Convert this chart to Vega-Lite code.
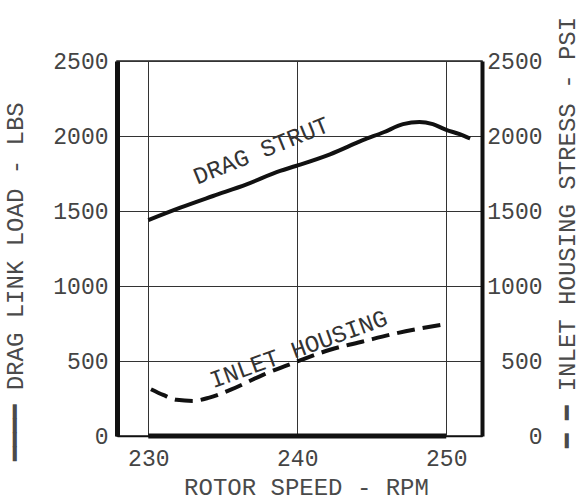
{
  "$schema": "https://vega.github.io/schema/vega-lite/v6.json",
  "width": 365,
  "height": 375,
  "autosize": {"type": "none"},
  "padding": {"left": 117, "top": 61, "right": 99, "bottom": 67},
  "background": "white",
  "config": {
    "font": "Liberation Mono",
    "view": {"stroke": "#222", "strokeWidth": 1.5},
    "axis": {"labelFont": "Liberation Mono", "titleFont": "Liberation Mono", "labelColor": "#444", "titleColor": "#4a4a4a", "titleFontWeight": "normal", "labelFontSize": 23, "titleFontSize": 24, "ticks": false, "gridColor": "#333", "gridWidth": 1, "gridOpacity": 1, "domainColor": "#111", "format": "d"}
  },
  "datasets": {
    "strut": [
      {"x": 230.0, "v": 1439}, {"x": 232.15, "v": 1522}, {"x": 234.35, "v": 1600}, {"x": 236.6, "v": 1678},
      {"x": 238.85, "v": 1767}, {"x": 239.9, "v": 1800}, {"x": 242.2, "v": 1878}, {"x": 244.4, "v": 1972},
      {"x": 245.8, "v": 2025}, {"x": 247.1, "v": 2079}, {"x": 248.2, "v": 2094}, {"x": 249.1, "v": 2079},
      {"x": 250.0, "v": 2041}, {"x": 250.9, "v": 2012}, {"x": 251.6, "v": 1983}
    ],
    "inlet": [
      {"x": 230.18, "v": 312}, {"x": 231.0, "v": 274}, {"x": 231.9, "v": 241}, {"x": 233.0, "v": 234},
      {"x": 234.1, "v": 256}, {"x": 235.5, "v": 307}, {"x": 237.7, "v": 408}, {"x": 240.0, "v": 497},
      {"x": 242.2, "v": 575}, {"x": 244.4, "v": 630}, {"x": 246.7, "v": 686}, {"x": 250.0, "v": 747}
    ],
    "labels": [
      {"x": 237.6, "v": 1898, "label": "DRAG STRUT"},
      {"x": 240.1, "v": 575, "label": "INLET HOUSING"}
    ],
    "base": [{"x": 230, "x2": 250, "v": 0}]
  },
  "layer": [
    {
      "layer": [
        {
          "data": {"name": "strut"},
          "mark": {"type": "line", "color": "#111", "strokeWidth": 4, "interpolate": "monotone"},
          "encoding": {
            "x": {"field": "x", "type": "quantitative", "scale": {"domain": [227.9, 252.4], "nice": false, "zero": false},
              "axis": {"values": [230, 240, 250], "title": "ROTOR SPEED - RPM", "domainWidth": 1.5, "labelPadding": 11, "titleX": 189, "titleY": 51, "titleBaseline": "middle", "titleAlign": "center"}},
            "y": {"field": "v", "type": "quantitative", "scale": {"domain": [0, 2500], "nice": false},
              "axis": {"orient": "left", "values": [0, 500, 1000, 1500, 2000, 2500], "title": "━━━━ DRAG LINK LOAD - LBS", "domainWidth": 5, "labelPadding": 9, "titleAngle": -90, "titleX": -102, "titleY": 220, "titleAlign": "center", "titleBaseline": "middle"}}
          }
        },
        {
          "data": {"name": "base"},
          "mark": {"type": "rule", "color": "#111", "strokeWidth": 5},
          "encoding": {
            "x": {"field": "x", "type": "quantitative"},
            "x2": {"field": "x2"},
            "y": {"field": "v", "type": "quantitative"}
          }
        },
        {
          "data": {"name": "labels"},
          "transform": [{"filter": "datum.label == 'DRAG STRUT'"}],
          "mark": {"type": "text", "angle": -22, "fontSize": 24, "font": "Liberation Mono", "color": "#333"},
          "encoding": {
            "x": {"field": "x", "type": "quantitative"},
            "y": {"field": "v", "type": "quantitative"},
            "text": {"field": "label"}
          }
        },
        {
          "data": {"name": "labels"},
          "transform": [{"filter": "datum.label == 'INLET HOUSING'"}],
          "mark": {"type": "text", "angle": -20, "fontSize": 24, "font": "Liberation Mono", "color": "#333"},
          "encoding": {
            "x": {"field": "x", "type": "quantitative"},
            "y": {"field": "v", "type": "quantitative"},
            "text": {"field": "label"}
          }
        }
      ]
    },
    {
      "data": {"name": "inlet"},
      "mark": {"type": "line", "color": "#111", "strokeWidth": 4, "strokeDash": [18, 8], "interpolate": "monotone"},
      "encoding": {
        "x": {"field": "x", "type": "quantitative"},
        "y": {"field": "v", "type": "quantitative", "scale": {"domain": [0, 2500], "nice": false},
          "axis": {"orient": "right", "values": [0, 500, 1000, 1500, 2000, 2500], "grid": false, "title": "━ ━ INLET HOUSING STRESS - PSI", "domainWidth": 4, "labelPadding": 60, "labelAlign": "right", "titleAngle": -90, "titleX": 85, "titleY": 171, "titleAlign": "center", "titleBaseline": "middle"}}
      }
    }
  ],
  "resolve": {"scale": {"y": "independent"}}
}
